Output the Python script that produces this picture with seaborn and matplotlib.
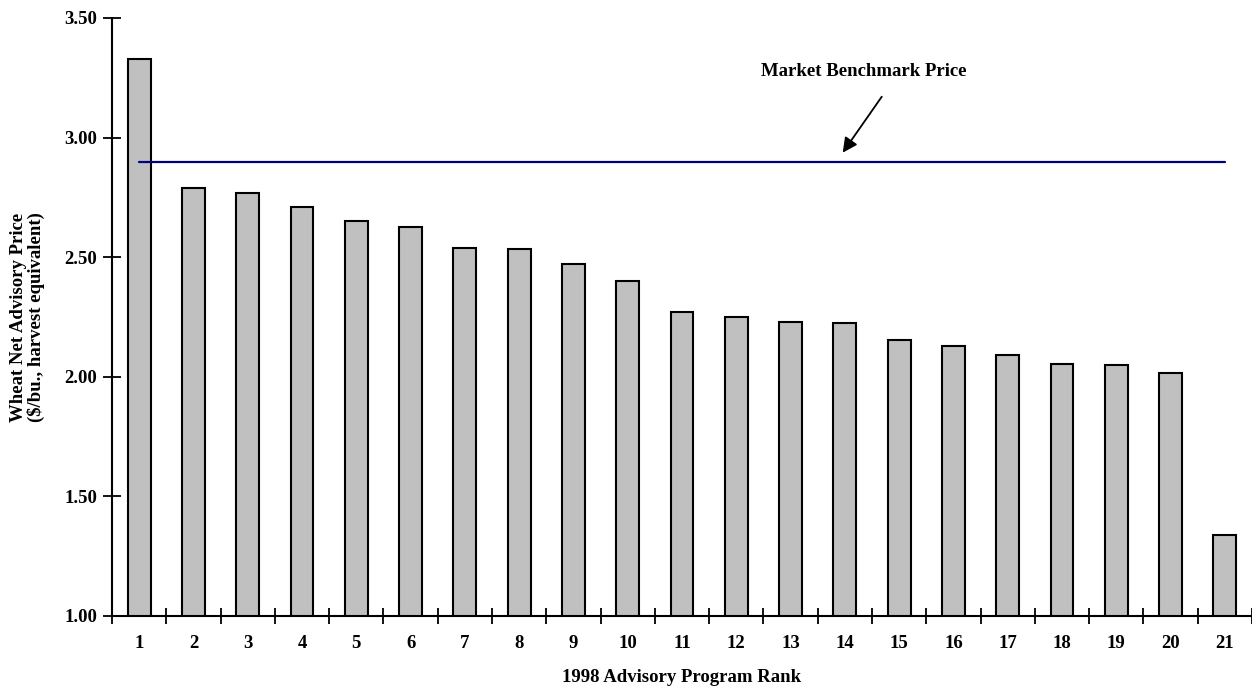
import matplotlib
matplotlib.use("Agg")
import matplotlib.pyplot as plt
import seaborn as sns
import pandas as pd
import numpy as np

ranks = [str(i) for i in range(1, 22)]
prices = [3.33, 2.79, 2.77, 2.71, 2.65, 2.625, 2.54, 2.535, 2.47, 2.40,
          2.27, 2.25, 2.23, 2.225, 2.155, 2.13, 2.09, 2.055, 2.05, 2.015, 1.34]
benchmark = 2.90
yticks = [1.00, 1.50, 2.00, 2.50, 3.00, 3.50]

sns.set_style("white")
plt.rcParams['font.family'] = ['Liberation Serif', 'DejaVu Serif']
plt.rcParams['font.weight'] = 'bold'
for k in ["text.color", "axes.labelcolor", "xtick.color", "ytick.color", "axes.edgecolor"]:
    plt.rcParams[k] = "black"

df = pd.DataFrame({"rank": ranks, "price": prices})

fig = plt.figure(figsize=(12.52, 6.89), dpi=100)
ax = fig.add_axes([112/1252, 1 - 616/689, 1 - 112/1252, (616 - 18)/689])

sns.barplot(data=df, x="rank", y="price", order=ranks, color="#c0c0c0",
            edgecolor="black", linewidth=1.5, width=0.42, saturation=1, ax=ax)

ax.plot([0, len(ranks) - 1], [benchmark, benchmark], color="#000080", lw=1.6)

ax.text(13.35, 3.278, "Market Benchmark Price", ha="center", va="center",
        fontsize=13.5, fontweight="bold")
ax.annotate("", xy=(12.96, 2.937), xytext=(13.68, 3.171),
            arrowprops=dict(arrowstyle="-|>", color="black", lw=1.3,
                            mutation_scale=22, shrinkA=0, shrinkB=0))

ax.set_xlim(-0.5, len(ranks) - 0.5)
ax.set_ylim(1.0, 3.5)
ax.set_yticks(yticks)
ax.set_yticklabels([f"{v:.2f}" for v in yticks], fontsize=13.5, fontweight="bold")
ax.set_xticks(range(len(ranks)))
ax.set_xticklabels(ranks, fontsize=13.5, fontweight="bold")
ax.set_xticks(np.arange(-0.5, len(ranks)), minor=True)
ax.tick_params(axis="x", which="major", bottom=True, length=0, pad=14)
ax.tick_params(axis="x", which="minor", bottom=True, length=11, width=1.3,
               direction="inout", color="black")
ax.tick_params(axis="y", which="major", left=True, length=13, width=1.3,
               direction="inout", color="black", pad=4)

for s in ["top", "right"]:
    ax.spines[s].set_visible(False)
for s in ["left", "bottom"]:
    ax.spines[s].set_color("black")
    ax.spines[s].set_linewidth(1.5)

ax.set_xlabel("1998 Advisory Program Rank", fontsize=13.5, fontweight="bold", labelpad=12)
ax.set_ylabel("Wheat Net Advisory Price\n($/bu., harvest equivalent)", fontsize=13.5,
              fontweight="bold", labelpad=14, linespacing=1.0)

fig.savefig("out.png", dpi=100)
